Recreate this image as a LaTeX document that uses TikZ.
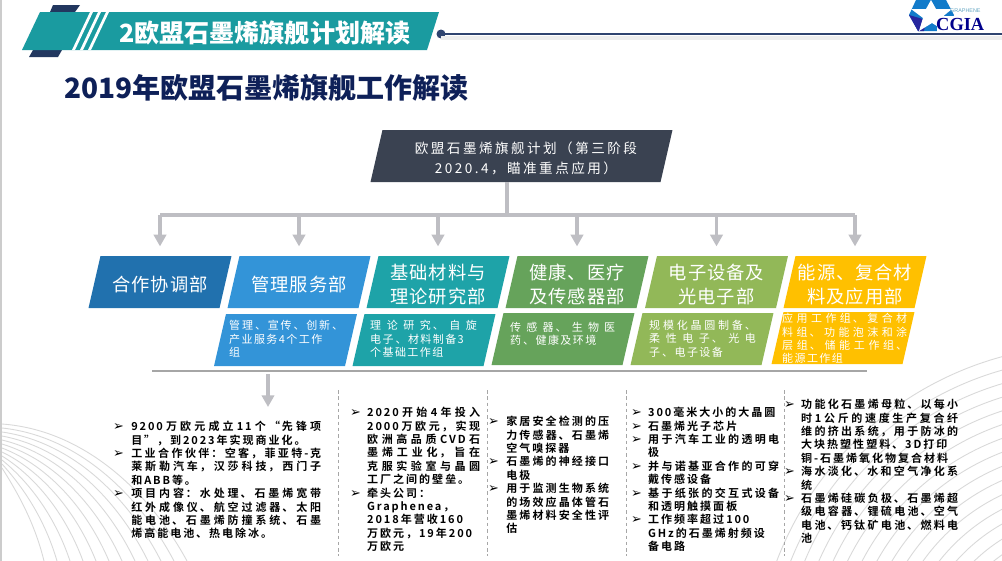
\documentclass[tikz,border=0pt]{standalone}
\usepackage{fontspec}
\setmainfont{Noto Sans CJK SC}
\newfontfamily\plainfont[LetterSpace=5]{Noto Sans CJK SC}
\newfontfamily\widefont[LetterSpace=18]{Noto Sans CJK SC}
\newfontfamily\listfont[LetterSpace=17]{Noto Sans CJK SC Bold}
\newfontfamily\arrowfont{DejaVu Sans}
\newfontfamily\logofont{Liberation Serif}
\newfontfamily\logosans{Liberation Sans}
\usepackage{tikz}
\usetikzlibrary{positioning,arrows.meta}
\XeTeXlinebreaklocale "zh"
\XeTeXlinebreakskip=0pt plus 4pt
\definecolor{tealbar}{HTML}{1A9BA0}
\definecolor{navybar}{HTML}{22375F}
\definecolor{navyline}{HTML}{2F4470}
\definecolor{titleblue}{HTML}{0E2058}
\definecolor{slatebox}{HTML}{3A4251}
\definecolor{busgray}{HTML}{BEBEC3}
\definecolor{deptA}{HTML}{2171AE}
\definecolor{deptB}{HTML}{3394D8}
\definecolor{deptC}{HTML}{1EA3A8}
\definecolor{deptD}{HTML}{66A35B}
\definecolor{deptE}{HTML}{92B858}
\definecolor{deptF}{HTML}{FFC000}
\newlength{\itemhang}
\newcommand{\arrowitem}[1]{\par\setlength{\itemhang}{#1}\hangindent=\itemhang\hangafter=1\noindent\hbox to \itemhang{\smash{\arrowfont\fontsize{11pt}{11pt}\selectfont ➢}\hfil}}
\tikzset{
    slanted/.style={rectangle,xslant=0.23,transform shape,inner sep=0pt,minimum height=1.56cm},
    dept/.style={slanted,minimum width=3.93cm},
    subbox/.style={slanted,minimum width=3.93cm},
    depttext/.style={inner sep=0pt,text=white,align=center,
        font=\plainfont\fontsize{15.6pt}{20.5pt}\selectfont},
    subtext/.style={anchor=north west,inner sep=0pt,text=white,text width=#1,align=justify,
        font=\widefont\fontsize{9.4pt}{11.5pt}\selectfont,
        execute at begin node={\XeTeXlinebreakskip=1.2pt plus 4pt\relax}},
    listtext/.style={anchor=north west,inner sep=0pt,text=black,text width=#1,align=justify,
        font=\listfont\fontsize{9.4pt}{11.45pt}\selectfont,
        execute at begin node={\XeTeXlinebreakskip=1.7pt plus 4pt\relax}},
    busline/.style={busgray,line width=3.4pt},
    busarrow/.style={busgray,line width=3.4pt,-{Triangle[width=10.5pt,length=10pt]},shorten >=8pt},
    coldash/.style={gray!70,line width=0.6pt,dash pattern=on 3pt off 2.4pt},
}
\begin{document}
\begin{tikzpicture}[x=0.03cm,y=-0.03cm]
    \useasboundingbox (0,0) rectangle (1002,561);
    \fill[white] (0,0) rectangle (1002,561);
    % faint arcs in the corners
    \begin{scope}
        \clip (0,0) rectangle (1002,561);
        \foreach \r in {140,153,...,335} {
            \draw[gray!30,line width=0.75pt] (1090,680) circle ({\r*0.03cm});
        }
        \foreach \i in {0,...,11} {
            \draw[gray!30,line width=0.75pt] (2,424+4*\i) .. controls ({(187-13*\i)*0.45},{430+6*\i}) and ({(187-13*\i)*0.8},{492+3*\i}) .. ({187-13*\i},561);
        }
    \end{scope}
    \fill[gray!40] (0,0) rectangle (2,561);
    % header
    \fill[navybar] (53,5) -- (80,5) -- (75,12) -- (50,12) -- cycle;
    \fill[navybar] (33,50) -- (62,50) -- (58,57) -- (29,57) -- cycle;
    \fill[tealbar] (40,12) -- (439,12) -- (427,50) -- (22,50) -- cycle;
    \foreach \x in {0,8,16} {
        \fill[white] (72+\x,50) -- (75+\x,50) -- (93+\x,12) -- (90+\x,12) -- cycle;
    }
    \node (bannertext) [anchor=west,inner sep=0pt,text=white,font=\bfseries\fontsize{21.4pt}{21.4pt}\selectfont] at (119,33) {2欧盟石墨烯旗舰计划解读};
    \fill[navyline] (441,34) circle ({4.5*0.03cm});
    \fill[gray!14] (441,36) rectangle (1002,40);
    \draw[navyline,line width=1.9pt] (441,34) -- (1002,34);
    \node (pagetitle) [anchor=west,inner sep=0pt,text=titleblue,font=\bfseries\fontsize{23.9pt}{23.9pt}\selectfont] at (64,88) {2019年欧盟石墨烯旗舰工作解读};
    % logo
    \fill[cyan!60!blue] (916,0) -- (946,0) -- (954,15) -- (946,31) -- (918,31) -- (909,15) -- cycle;
    \fill[blue!55!black!85] (909,15) -- (926,20) -- (924,31) -- (918,31) -- cycle;
    \fill[white] (931,0) -- (936,9) -- (952,9) -- (941,18) -- (945,31) -- (932,23) -- (919,31) -- (923,18) -- (911,9) -- (926,9) -- cycle;
    \fill[white] (937,16) rectangle (960,32);
    \node (logotext) [anchor=west,inner sep=0pt,text=blue!55!black,font=\logofont\bfseries\fontsize{15.7pt}{15.7pt}\selectfont] at (936,24) {CGIA};
    \node (logosmall) [anchor=west,inner sep=0pt,text=cyan!50!gray,font=\logosans\fontsize{4.6pt}{4.6pt}\selectfont] at (950,11) {GRAPHENE};
    % top box
    \node (plan) [slanted,fill=slatebox,minimum width=8.7cm] at (521.5,156) {};
    \node (plantext) [inner sep=0pt,text=white,align=center,font=\widefont\fontsize{11.6pt}{16.8pt}\selectfont]
        at ([xshift=3.8pt,yshift=-2pt]plan.center) {欧盟石墨烯旗舰计划（第三阶段\\2020.4，瞄准重点应用）};
    % departments
    \foreach \d/\c/\x/\t in {deptone/deptA/160/合作协调部,
        depttwo/deptB/299/管理服务部,
        deptthree/deptC/438/基础材料与\\理论研究部,
        deptfour/deptD/577/健康、医疗\\及传感器部,
        deptfive/deptE/716.5/电子设备及\\光电子部,
        deptsix/deptF/855/能源、复合材\\料及应用部} {
        \node (\d) [dept,fill=\c] at (\x,282) {};
        \node (\d text) [depttext] at ([yshift=-2.2pt]\d.center) {\t};
    }
    % bus
    \coordinate (busjoin) at (507,215);
    \coordinate (busleft) at (deptone.center |- busjoin);
    \coordinate (busright) at (deptsix.center |- busjoin);
    \draw[busline] (plan.south -| busjoin) -- (busjoin);
    \draw[busline] (busleft) -- (busright);
    \foreach \d in {deptone,depttwo,deptthree,deptfour,deptfive,deptsix} {
        \coordinate (drop) at (\d.center |- busjoin);
        \draw[busarrow] (drop) -- (\d.center |- \d.north);
    }
    % sub boxes
    \node (subtwo) [subbox,fill=deptB] at (285.5,340) {};
    \node (subthree) [subbox,fill=deptC] at (424,340) {};
    \node (subfour) [subbox,fill=deptD] at (563,339) {};
    \node (subfive) [subbox,fill=deptE] at (702,339) {};
    \node (subsix) [subbox,fill=deptF] at (843,338) {};
    \node (subtwotext) [subtext=3.42cm] at (229,320) {管理、宣传、创新、\linebreak 产业服务4个工作\\组};
    \node (subthreetext) [subtext=3.2cm] at (370,320) {理论研究、自旋\linebreak 电子、材料制备3\\个基础工作组};
    \node (subfourtext) [subtext=3.15cm] at (510,322) {传感器、生物医\linebreak 药、健康及环境};
    \node (subfivetext) [subtext=3.2cm] at (649,320) {规模化晶圆制备、\linebreak 柔性电子、光电\linebreak 子、电子设备};
    \node (subsixtext) [subtext=3.75cm] at (782,313) {应用工作组、复合材\linebreak 料组、功能泡沫和涂\linebreak 层组、储能工作组、\linebreak 能源工作组};
    % rule and arrow
    \coordinate (rulestart) at (152,371);
    \coordinate (ruleend) at (867,371);
    \draw[gray!70,line width=1.1pt] (rulestart) -- (ruleend);
    \coordinate (dropstart) at (268,374);
    \coordinate (dropend) at (268,407);
    \draw[busarrow,shorten >=0pt] (dropstart) -- (dropend);
    % columns
    \foreach \x in {338,487,626,784} {
        \draw[coldash] (\x,390) -- (\x,556);
    }
    \node (listone) [listtext=6.24cm] at (113,417) {%
        \arrowitem{15.4pt}9200万欧元成立11个“先锋项\linebreak 目”，到2023年实现商业化。\par
        \arrowitem{15.4pt}工业合作伙伴：空客，菲亚特-克\linebreak 莱斯勒汽车，汉莎科技，西门子\linebreak 和ABB等。\par
        \arrowitem{15.4pt}项目内容：水处理、石墨烯宽带\linebreak 红外成像仪、航空过滤器、太阳\linebreak 能电池、石墨烯防撞系统、石墨\linebreak 烯高能电池、热电除冰。\par};
    \node (listtwo) [listtext=3.9cm] at (350,403) {%
        \arrowitem{14.5pt}2020开始4年投入\linebreak 2000万欧元，实现\linebreak 欧洲高品质CVD石\linebreak 墨烯工业化，旨在\linebreak 克服实验室与晶圆\linebreak 工厂之间的壁垒。\par
        \arrowitem{14.5pt}牵头公司：\\Graphenea，\\2018年营收160\\万欧元，19年200\\万欧元\par};
    \node (listthree) [listtext=3.63cm] at (488,412) {%
        \arrowitem{15.4pt}家居安全检测的压\linebreak 力传感器、石墨烯\linebreak 空气嗅探器\par
        \arrowitem{15.4pt}石墨烯的神经接口\linebreak 电极\par
        \arrowitem{15.4pt}用于监测生物系统\linebreak 的场效应晶体管石\linebreak 墨烯材料安全性评\linebreak 估\par};
    \node (listfour) [listtext=4.44cm] at (631,403) {%
        \arrowitem{14.5pt}300毫米大小的大晶圆\par
        \arrowitem{14.5pt}石墨烯光子芯片\par
        \arrowitem{14.5pt}用于汽车工业的透明电\linebreak 极\par
        \arrowitem{14.5pt}并与诺基亚合作的可穿\linebreak 戴传感设备\par
        \arrowitem{14.5pt}基于纸张的交互式设备\linebreak 和透明触摸面板\par
        \arrowitem{14.5pt}工作频率超过100\\GHz的石墨烯射频设\\备电路\par};
    \node (listfive) [listtext=5.22cm] at (784,395) {%
        \arrowitem{14.5pt}功能化石墨烯母粒、以每小\linebreak 时1公斤的速度生产复合纤\linebreak 维的挤出系统，用于防冰的\linebreak 大块热塑性塑料、3D打印\\铜-石墨烯氧化物复合材料\par
        \arrowitem{14.5pt}海水淡化、水和空气净化系\linebreak 统\par
        \arrowitem{14.5pt}石墨烯硅碳负极、石墨烯超\linebreak 级电容器、锂硫电池、空气\linebreak 电池、钙钛矿电池、燃料电\linebreak 池\par};
\end{tikzpicture}
\end{document}
